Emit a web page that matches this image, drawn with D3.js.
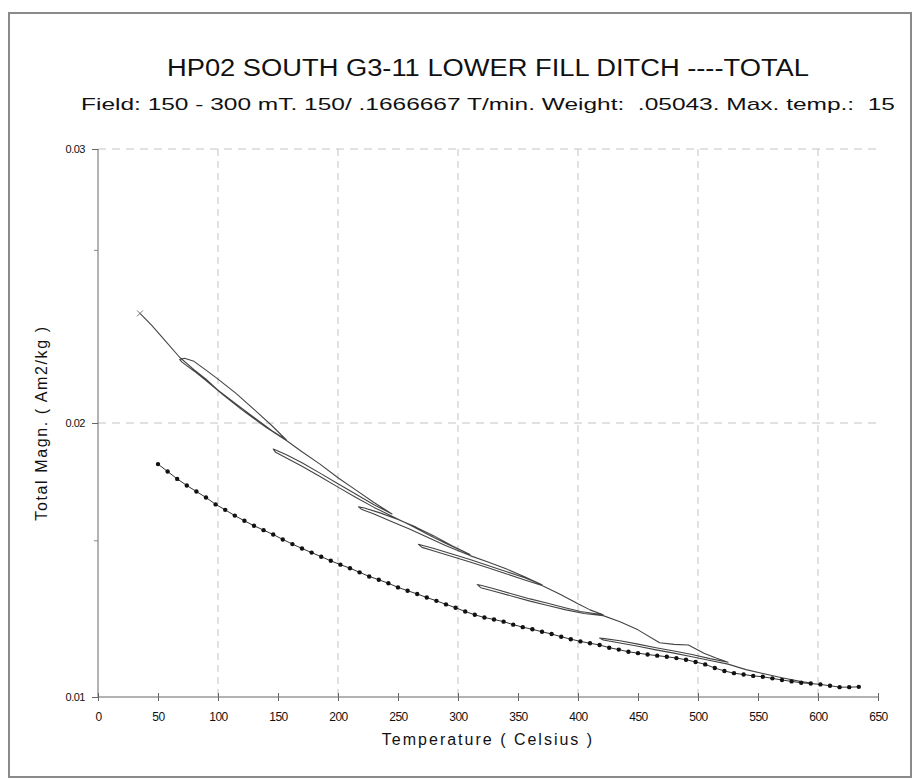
<!DOCTYPE html>
<html>
<head>
<meta charset="utf-8">
<script src="https://cdn.jsdelivr.net/npm/d3@7"></script>
<style>
  body { margin: 0; background: #fff; }
  text { font-family: "Liberation Sans", Arial, sans-serif; fill: #111; white-space: pre; }
</style>
</head>
<body>
<div id="chart"></div>
<script>
// Titles
const titleText = "HP02 SOUTH G3-11 LOWER FILL DITCH ----TOTAL";
const subtitleText = "Field: 150 - 300 mT. 150/ .1666667 T/min. Weight:  .05043. Max. temp.:  15";
const xLabel = "Temperature ( Celsius )";
const yLabel = "Total Magn. ( Am2/kg )";

// Axis ticks
const xTicks = [0, 50, 100, 150, 200, 250, 300, 350, 400, 450, 500, 550, 600, 650];
const xGrid = [100, 200, 300, 400, 500, 600];
const yTicks = [0.01, 0.02, 0.03];
const yMinorTicks = [0.0263, 0.0157];
const yGrid = [0.02, 0.03];

// Dotted curve (cooling)
const dotTemp = [50, 58, 66, 74, 82, 90, 98, 106, 114, 122, 130, 138, 146, 154, 162, 170, 178, 186, 194, 202,
  210, 218, 226, 234, 242, 250, 258, 266, 274, 282, 290, 298, 306, 314, 322, 330, 338, 346, 354, 362,
  370, 378, 386, 394, 402, 410, 418, 426, 434, 442, 450, 458, 466, 474, 482, 490, 498, 506, 514, 522,
  530, 538, 546, 554, 562, 570, 578, 586, 594, 602, 610, 618, 626, 634];
const dotMagn = [.01850, .01823, .01796, .01772, .01750, .01728, .01703, .01683, .01662, .01643,
  .01625, .01609, .01593, .01575, .01558, .01542, .01527, .01512, .01497, .01483,
  .01470, .01455, .01440, .01428, .01415, .01400, .01388, .01376, .01363, .01351,
  .01338, .01326, .01312, .01300, .01290, .01283, .01275, .01264, .01255, .01247,
  .01238, .01230, .01220, .01211, .01203, .01196, .01190, .01180, .01173, .01165,
  .01160, .01155, .01151, .01147, .01142, .01136, .01128, .01119, .01106, .01095,
  .01087, .01082, .01077, .01074, .01068, .01062, .01057, .01052, .01049, .01046,
  .01041, .01036, .01036, .01037];

// Stepwise heating curve with partial cooling loops, in measurement order
const lineTemp = [35, 45, 55, 68, 80, 90, 100, 115, 130, 145, 157,
  145, 130, 115, 100, 90, 80, 72, 68,
  70, 80, 90, 105, 120, 140, 157, 170, 185, 200, 215, 230, 245,
  230, 215, 200, 185, 170, 157, 149, 146,
  148, 157, 170, 185, 200, 215, 230, 245, 260, 275, 290, 310,
  295, 280, 265, 250, 235, 222, 217,
  220, 230, 245, 260, 275, 290, 310, 325, 340, 355, 370,
  355, 340, 325, 310, 295, 280, 270, 267,
  270, 280, 295, 310, 325, 340, 355, 370, 385, 400, 410, 421,
  402, 390, 374, 360, 346, 330, 319, 316,
  319, 330, 346, 360, 374, 390, 405, 421, 435, 450, 468, 480, 492, 505, 515, 525,
  510, 495, 480, 465, 450, 435, 422, 418,
  421, 435, 450, 465, 480, 495, 510, 525, 540, 555, 570, 585, 595];
const lineMagn = [.02400, .02355, .02305, .02240, .02195, .02160, .02120, .02070, .02020, .01972, .01938,
  .01990, .02050, .02108, .02160, .02193, .02225, .02236, .02232,
  .02222, .02190, .02155, .02100, .02048, .01984, .01936, .01895, .01850, .01800, .01755, .01710, .01668,
  .01702, .01740, .01778, .01817, .01855, .01884, .01900, .01905,
  .01893, .01872, .01842, .01805, .01766, .01728, .01692, .01660, .01628, .01593, .01560, .01520,
  .01552, .01588, .01620, .01648, .01672, .01690, .01694,
  .01684, .01668, .01640, .01612, .01582, .01552, .01516, .01493, .01468, .01440, .01410,
  .01436, .01458, .01480, .01502, .01522, .01542, .01554, .01557,
  .01546, .01533, .01513, .01493, .01472, .01450, .01428, .01407, .01375, .01340, .01318, .01300,
  .01312, .01325, .01343, .01358, .01375, .01395, .01408, .01410,
  .01399, .01386, .01367, .01350, .01335, .01318, .01305, .01297, .01275, .01245, .01198, .01192, .01190, .01160, .01142, .01127,
  .01140, .01155, .01168, .01180, .01193, .01205, .01213, .01215,
  .01208, .01197, .01185, .01172, .01160, .01147, .01133, .01120, .01100, .01085, .01070, .01057, .01050];

const W = 916, H = 780;
const plot = { left: 98, right: 878, top: 149, bottom: 697 };

const svg = d3.select("#chart").append("svg")
  .attr("width", W)
  .attr("height", H);

// outer frame
svg.append("rect")
  .attr("x", 9).attr("y", 13)
  .attr("width", 902).attr("height", 764)
  .attr("fill", "none")
  .attr("stroke", "#8a8a8a")
  .attr("stroke-width", 2);

const x = d3.scaleLinear().domain([0, 650]).range([plot.left, plot.right]);
const y = d3.scaleLinear().domain([0.01, 0.03]).range([plot.bottom, plot.top]);

// grid
svg.append("g").selectAll("line")
  .data(xGrid).enter().append("line")
  .attr("x1", d => x(d)).attr("x2", d => x(d))
  .attr("y1", plot.top).attr("y2", plot.bottom)
  .attr("stroke", "#c4c4c4")
  .attr("stroke-dasharray", "7,5");

svg.append("g").selectAll("line")
  .data(yGrid).enter().append("line")
  .attr("x1", plot.left).attr("x2", plot.right)
  .attr("y1", d => y(d)).attr("y2", d => y(d))
  .attr("stroke", "#c4c4c4")
  .attr("stroke-dasharray", "8,6");

// x axis
const xAxis = svg.append("g")
  .attr("transform", `translate(0,${plot.bottom})`)
  .call(d3.axisBottom(x).tickValues(xTicks).tickSize(4).tickPadding(11).tickFormat(d3.format("d")));
xAxis.select(".domain").attr("stroke", "#666").attr("d", `M${plot.left},0H${plot.right}`);
xAxis.selectAll(".tick line").attr("stroke", "#666").attr("y1", -4).attr("y2", 4);
xAxis.selectAll(".tick text")
  .style("font-size", "12px")
  .style("letter-spacing", "-0.5px")
  .attr("fill", "#111");

// y axis
const yAxis = svg.append("g")
  .attr("transform", `translate(${plot.left},0)`)
  .call(d3.axisLeft(y).tickValues(yTicks).tickSize(6).tickPadding(7).tickFormat(d3.format(".2f")));
yAxis.select(".domain").attr("stroke", "#666").attr("d", `M0,${plot.top}V${plot.bottom}`);
yAxis.selectAll(".tick line").attr("stroke", "#666");
yAxis.selectAll(".tick text")
  .style("font-size", "11px")
  .style("letter-spacing", "-0.5px")
  .attr("fill", "#111");

svg.append("g").selectAll("line")
  .data(yMinorTicks).enter().append("line")
  .attr("x1", plot.left - 4).attr("x2", plot.left)
  .attr("y1", d => y(d)).attr("y2", d => y(d))
  .attr("stroke", "#888");

// titles
svg.append("text")
  .attr("x", 488).attr("y", 76)
  .attr("text-anchor", "middle")
  .attr("textLength", 642)
  .attr("lengthAdjust", "spacingAndGlyphs")
  .style("font-size", "23px")
  .attr("fill", "#1a1a1a")
  .text(titleText);

svg.append("text")
  .attr("x", 488).attr("y", 110)
  .attr("text-anchor", "middle")
  .attr("textLength", 814)
  .attr("lengthAdjust", "spacingAndGlyphs")
  .style("font-size", "17px")
  .attr("fill", "#1a1a1a")
  .text(subtitleText);

svg.append("text")
  .attr("x", 488).attr("y", 745)
  .attr("text-anchor", "middle")
  .style("font-size", "16px")
  .style("letter-spacing", "2px")
  .text(xLabel);

svg.append("text")
  .attr("transform", `translate(47,${(plot.top + plot.bottom) / 2}) rotate(-90)`)
  .attr("text-anchor", "middle")
  .style("font-size", "16px")
  .style("letter-spacing", "1.6px")
  .text(yLabel);

// heating curve with loops
const linePts = lineTemp.map((t, i) => [t, lineMagn[i]]);
svg.append("path")
  .datum(linePts)
  .attr("fill", "none")
  .attr("stroke", "#444")
  .attr("stroke-width", 1.1)
  .attr("stroke-linejoin", "round")
  .attr("d", d3.line().x(d => x(d[0])).y(d => y(d[1])));

// start marker
const s = [x(lineTemp[0]), y(lineMagn[0])];
svg.append("path")
  .attr("d", `M${s[0] - 3},${s[1] - 3}L${s[0] + 3},${s[1] + 3}M${s[0] - 3},${s[1] + 3}L${s[0] + 3},${s[1] - 3}`)
  .attr("stroke", "#777")
  .attr("stroke-width", 1);

// dotted cooling curve
const dotPts = dotTemp.map((t, i) => [t, dotMagn[i]]);
svg.append("path")
  .datum(dotPts)
  .attr("fill", "none")
  .attr("stroke", "#333")
  .attr("stroke-width", 1)
  .attr("d", d3.line().x(d => x(d[0])).y(d => y(d[1])));

svg.append("g").selectAll("circle")
  .data(dotPts).enter().append("circle")
  .attr("cx", d => x(d[0]))
  .attr("cy", d => y(d[1]))
  .attr("r", 2.2)
  .attr("fill", "#111");
</script>
</body>
</html>
